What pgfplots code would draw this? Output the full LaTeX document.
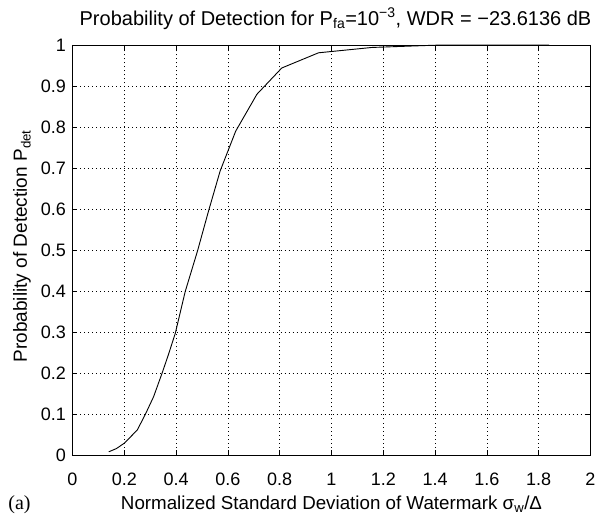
\documentclass[border=0pt]{standalone}
\usepackage{fontspec}
\setmainfont{Liberation Sans}
\newfontfamily\timesfont{Liberation Serif}
\usepackage{pgfplots}
\pgfplotsset{compat=1.18}
\pgfplotstableread{
x y
0.140 0.009
0.170 0.017
0.200 0.030
0.250 0.062
0.281 0.100
0.313 0.143
0.345 0.199
0.370 0.245
0.397 0.298
0.435 0.399
0.483 0.499
0.525 0.595
0.570 0.693
0.630 0.790
0.712 0.880
0.808 0.944
0.950 0.981
1.156 0.994
1.400 0.9995
1.840 1.000
}\pdet
\begin{document}
\begin{tikzpicture}
\begin{axis}[
  scale only axis, width=518pt, height=410.5pt,
  xmin=0, xmax=2, ymin=0, ymax=1,
  xtick={0,0.2,0.4,0.6,0.8,1,1.2,1.4,1.6,1.8,2},
  xticklabels={0,0.2,0.4,0.6,0.8,1,1.2,1.4,1.6,1.8,2},
  ytick={0,0.1,0.2,0.3,0.4,0.5,0.6,0.7,0.8,0.9,1},
  yticklabels={0,0.1,0.2,0.3,0.4,0.5,0.6,0.7,0.8,0.9,1},
  tick align=inside, major tick length=5pt,
  tick style={black, line width=0.7pt},
  axis line style={black, line width=0.9pt},
  grid=major,
  major grid style={black, line width=0.6pt, dash pattern=on 1pt off 3pt},
  xticklabel style={font=\fontsize{18}{20}\selectfont, anchor=base, inner sep=0pt, yshift=-29.5pt},
  yticklabel style={font=\fontsize{18}{20}\selectfont, anchor=east, inner sep=0pt, xshift=-6.5pt},
  title={Probability of Detection for P\textsubscript{fa}=10\textsuperscript{−3}, WDR = −23.6136 dB},
  title style={font=\fontsize{20}{22}\selectfont, at={(0.5,1)}, anchor=base, yshift=13.6pt, xshift=4pt},
  xlabel={Normalized Standard Deviation of Watermark σ\textsubscript{w}/Δ},
  xlabel style={font=\fontsize{18.75}{21}\selectfont, at={(0.5,0)}, anchor=base, yshift=-54.2pt},
  ylabel={Probability of Detection P\textsubscript{det}},
  ylabel style={font=\fontsize{19}{21}\selectfont, at={(axis description cs:-0.088,0.51)}, anchor=base},
  clip=false,
]
\addplot[black, line width=0.9pt] table[x=x,y=y] {\pdet};
\end{axis}
\node[font=\timesfont\fontsize{20}{22}\selectfont, anchor=base west, inner sep=0pt] at (-64.3pt,-54.2pt) {(a)};
\pgfresetboundingbox
\useasboundingbox (-72.5pt,-58.5pt) rectangle (524.5pt,455.5pt);
\end{tikzpicture}
\end{document}
